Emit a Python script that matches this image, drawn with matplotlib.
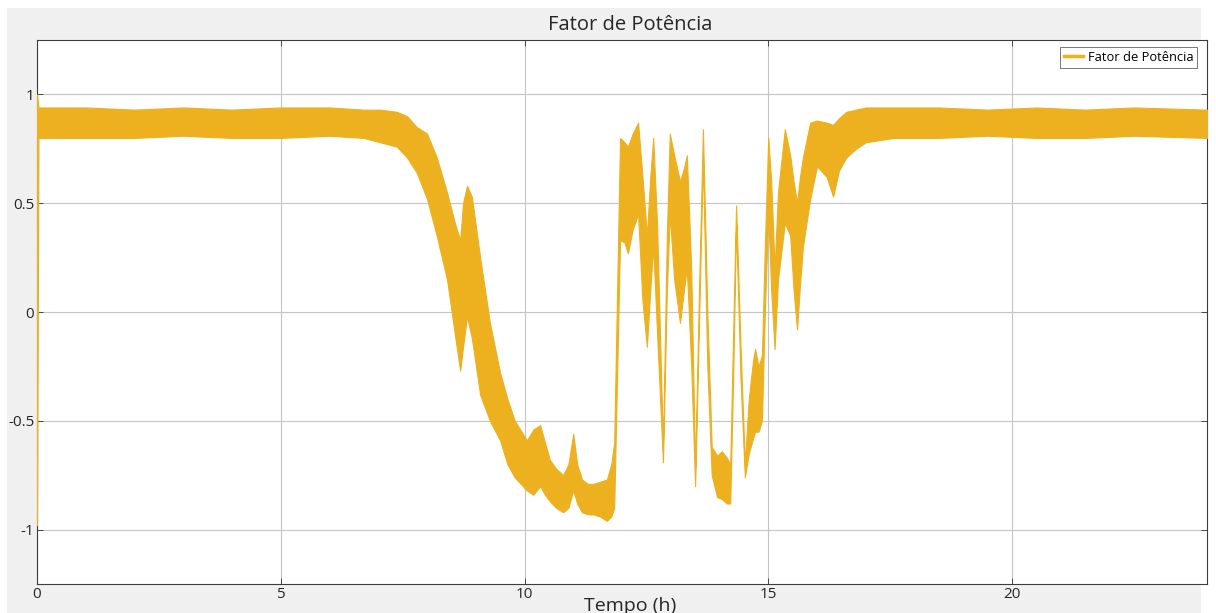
import matplotlib
matplotlib.use("Agg")
import matplotlib.pyplot as plt
from matplotlib.lines import Line2D
from matplotlib.patches import Rectangle

# Power factor over a day: envelope of the fast oscillation (upper / lower limits)
hours = [0.00, 0.03, 1.0, 2.0, 3.0, 4.0, 5.0, 6.0, 6.7, 7.04, 7.38, 7.59, 7.79,
         8.00, 8.20, 8.41, 8.57, 8.68, 8.74, 8.82, 8.92, 9.09, 9.29, 9.50, 9.65,
         9.80, 10.05, 10.18, 10.32, 10.42, 10.52, 10.65, 10.79, 10.90, 11.00,
         11.08, 11.18, 11.30, 11.41, 11.55, 11.69, 11.78, 11.84, 11.96, 12.05,
         12.12, 12.22, 12.33, 12.42, 12.51, 12.58, 12.64, 12.72, 12.84, 12.92,
         12.98, 13.07, 13.19, 13.27, 13.33, 13.42, 13.50, 13.58, 13.66, 13.75,
         13.84, 13.95, 14.05, 14.15, 14.22, 14.28, 14.34, 14.43, 14.52, 14.60,
         14.69, 14.73, 14.80, 14.87, 14.93, 15.00, 15.06, 15.13, 15.20, 15.34,
         15.45, 15.52, 15.59, 15.65, 15.71, 15.86, 16.00, 16.20, 16.33, 16.45,
         16.60, 16.80, 17.00, 17.57, 18.5, 19.5, 20.5, 21.5, 22.5, 24.0]
fp_upper = [1.00, 0.94, 0.94, 0.93, 0.94, 0.93, 0.94, 0.94, 0.93, 0.93, 0.92, 0.90, 0.85,
            0.82, 0.71, 0.55, 0.41, 0.33, 0.50, 0.58, 0.53, 0.25, -0.05, -0.28, -0.40,
            -0.50, -0.59, -0.54, -0.52, -0.60, -0.68, -0.72, -0.75, -0.70, -0.56,
            -0.70, -0.77, -0.79, -0.79, -0.78, -0.77, -0.70, -0.60, 0.80, 0.78,
            0.76, 0.82, 0.87, 0.62, 0.35, 0.62, 0.80, 0.40, -0.62, 0.35,
            0.82, 0.72, 0.60, 0.66, 0.72, 0.20, -0.72, 0.10, 0.84, 0.00,
            -0.62, -0.66, -0.64, -0.67, -0.70, -0.10, 0.49, -0.15, -0.70, -0.40,
            -0.22, -0.17, -0.25, -0.20, 0.30, 0.80, 0.60, 0.20, 0.55, 0.84,
            0.72, 0.60, 0.50, 0.62, 0.71, 0.87, 0.88, 0.87, 0.86, 0.89,
            0.92, 0.93, 0.94, 0.94, 0.94, 0.93, 0.94, 0.93, 0.94, 0.93]
fp_lower = [-0.98, 0.80, 0.80, 0.80, 0.81, 0.80, 0.80, 0.81, 0.80, 0.78, 0.76, 0.71, 0.64,
            0.52, 0.35, 0.15, -0.10, -0.27, -0.16, -0.02, -0.12, -0.38, -0.50, -0.59, -0.70,
            -0.76, -0.82, -0.84, -0.80, -0.84, -0.87, -0.90, -0.92, -0.90, -0.82,
            -0.88, -0.92, -0.93, -0.93, -0.94, -0.96, -0.94, -0.90, 0.33, 0.32,
            0.27, 0.38, 0.45, 0.05, -0.16, 0.10, 0.30, -0.10, -0.69, 0.10,
            0.45, 0.15, -0.05, 0.10, 0.20, -0.25, -0.80, -0.05, 0.70, -0.25,
            -0.75, -0.85, -0.86, -0.88, -0.88, -0.30, 0.40, -0.30, -0.76, -0.65,
            -0.58, -0.55, -0.55, -0.50, 0.00, 0.45, 0.10, -0.17, 0.15, 0.41,
            0.35, 0.10, -0.08, 0.12, 0.30, 0.52, 0.67, 0.62, 0.53, 0.65,
            0.71, 0.75, 0.78, 0.80, 0.80, 0.81, 0.80, 0.80, 0.81, 0.80]

x_ticks = [0, 5, 10, 15, 20]
y_ticks = [-1, -0.5, 0, 0.5, 1]
y_tick_labels = ["-1", "-0.5", "0", "0.5", "1"]

LINE_COLOR = "#EDB120"
FONT = ["Open Sans", "DejaVu Sans"]
TEXT_COLOR = "#262626"

W, H = 1216, 613
fig = plt.figure(figsize=(W / 100, H / 100), dpi=100, facecolor="white")
# grey window background, kept behind the axes
fig.patches.append(Rectangle((7 / W, 0), (1201 - 7) / W, (H - 8) / H,
                             transform=fig.transFigure, facecolor="#f0f0f0",
                             edgecolor="none", zorder=-10))

ax = fig.add_axes([37 / W, (H - 584) / H, (1207 - 37) / W, (584 - 40) / H])
ax.set_zorder(1)
ax.set_facecolor("white")

ax.fill_between(hours, fp_lower, fp_upper, color=LINE_COLOR, linewidth=0.8,
                edgecolor=LINE_COLOR, zorder=3)

ax.set_xlim(0, 24)
ax.set_ylim(-1.25, 1.25)
ax.set_xticks(x_ticks)
ax.set_xticklabels([str(v) for v in x_ticks], fontfamily=FONT, fontsize=11)
ax.set_yticks(y_ticks)
ax.set_yticklabels(y_tick_labels, fontfamily=FONT, fontsize=11)
ax.tick_params(direction="in", length=4, width=0.6, color="#333333",
               top=True, right=True, pad=2, labelcolor=TEXT_COLOR)
ax.grid(True, color="#c4c4c4", linewidth=0.8)
ax.set_axisbelow(True)
for s in ax.spines.values():
    s.set_color("#3c3c3c")
    s.set_linewidth(0.8)

ax.set_title("Fator de Potência", fontfamily=FONT, fontsize=14.5, color=TEXT_COLOR,
             x=0.507, y=1.0, pad=7)
ax.set_xlabel("Tempo (h)", fontfamily=FONT, fontsize=14, color=TEXT_COLOR)
ax.xaxis.set_label_coords(0.507, -0.024)
ax.xaxis.label.set_va("top")

handle = Line2D([], [], color=LINE_COLOR, linewidth=2.5)
leg = ax.legend([handle], ["Fator de Potência"], loc="upper right",
                prop={"family": FONT, "size": 9.3}, frameon=True, fancybox=False,
                handlelength=1.5, handletextpad=0.35, borderpad=0.3,
                borderaxespad=0, bbox_to_anchor=(0.9915, 0.987))
leg.get_frame().set_edgecolor("#3c3c3c")
leg.get_frame().set_linewidth(0.6)

fig.savefig("out.png", dpi=100, facecolor=fig.get_facecolor())
